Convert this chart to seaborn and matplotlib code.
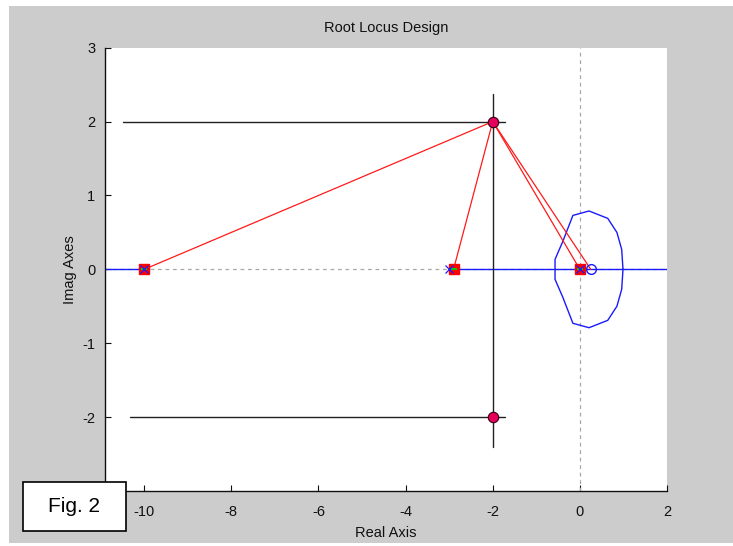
import matplotlib
matplotlib.use("Agg")
import matplotlib.pyplot as plt
from matplotlib.patches import Rectangle
import seaborn as sns

sns.set_style("white")
plt.rcParams['font.family'] = ['Liberation Sans', 'DejaVu Sans']

# ---- data ----
ol_poles = [-10.0, -3.0, 0.0]          # open-loop poles (blue x)
ol_zero = [0.25]                        # open-loop zero (blue o)
cl_poles = [-10.0, -2.9, 0.0]           # closed-loop poles (red squares)
design_x = [-2.0, -2.0]                 # desired pole locations
design_y = [2.0, -2.0]

locus_x = [0.99, 0.96, 0.85, 0.64, 0.21, -0.16, -0.39, -0.57, -0.57,
           -0.39, -0.16, 0.21, 0.64, 0.85, 0.96, 0.99]
locus_y = [0.0, 0.27, 0.50, 0.69, 0.79, 0.73, 0.38, 0.135, -0.135,
           -0.38, -0.73, -0.79, -0.69, -0.50, -0.27, 0.0]
real_left = [-10.9, -10.0]
real_right = [-3.0, 2.0]

vec_targets = [-10.0, -2.9, 0.0, 0.25]  # red vectors from (-2, 2)

hline_y = [2.0, -2.0]
hline_x0 = [-10.48, -10.32]
hline_x1 = [-1.72, -1.72]
vline_y = [-2.41, 2.37]

xticks = [-10, -8, -6, -4, -2, 0, 2]
yticks = [-2, -1, 0, 1, 2, 3]

# ---- figure ----
W, H = 733, 546
fig = plt.figure(figsize=(W / 100, H / 100), dpi=100, facecolor='white')
fig.add_artist(Rectangle((9 / W, 3 / H), 1 - 9 / W, (540 - 3) / H,
                         transform=fig.transFigure, facecolor='#cccccc',
                         edgecolor='none', zorder=-5))
ax = fig.add_axes([105 / W, 55 / H, 562 / W, 443.3 / H])
ax.set_facecolor('white')

gray = '#a8a8a8'
ax.axhline(0, color=gray, lw=0.9, ls=(0, (3, 3)), zorder=1)
ax.axvline(0, color=gray, lw=0.9, ls=(0, (3, 3)), zorder=1)

blue = '#1a1aff'
red = '#ff1a1a'
sns.lineplot(x=real_left, y=[0, 0], color=blue, lw=1.0, ax=ax, sort=False,
             estimator=None, zorder=2)
sns.lineplot(x=real_right, y=[0, 0], color=blue, lw=1.0, ax=ax, sort=False,
             estimator=None, zorder=2)
sns.lineplot(x=locus_x, y=locus_y, color=blue, lw=1.0, ax=ax, sort=False,
             estimator=None, zorder=2)

# black crosshair lines
for y, x0, x1 in zip(hline_y, hline_x0, hline_x1):
    sns.lineplot(x=[x0, x1], y=[y, y], color='#222222', lw=1.0, ax=ax,
                 sort=False, estimator=None, zorder=3)
sns.lineplot(x=[design_x[0], design_x[0]], y=vline_y, color='#222222', lw=1.0,
             ax=ax, sort=False, estimator=None, zorder=3)

# red vectors
for t in vec_targets:
    sns.lineplot(x=[design_x[0], t], y=[design_y[0], 0], color=red, lw=0.9,
                 ax=ax, sort=False, estimator=None, zorder=4)

# markers
ax.plot(cl_poles, [0] * len(cl_poles), ls='none', marker='s', ms=6.5,
        mfc='#ff0000', mec='#ff0000', zorder=5)
ax.plot(cl_poles, [0] * len(cl_poles), ls='none', marker='_', ms=5,
        mew=1.5, color='#00cc00', zorder=6)
ax.plot(ol_poles, [0] * len(ol_poles), ls='none', marker='x', ms=6,
        mew=0.9, color=blue, zorder=6)
ax.plot(ol_zero, [0], ls='none', marker='o', ms=7, mfc='none', mec=blue,
        mew=1.0, zorder=6)
ax.plot(design_x, design_y, ls='none', marker='o', ms=7.5, mfc='#e6005c',
        mec='#330011', mew=0.8, zorder=7)

ax.set_xlim(-10.9, 2)
ax.set_ylim(-3, 3)
ax.set_xticks(xticks)
ax.set_yticks(yticks)
ax.set_xticklabels([str(v) for v in xticks])
ax.set_yticklabels([str(v) for v in yticks])
ax.tick_params(direction='in', length=4, width=0.8, colors='#111111',
               labelsize=10.5, bottom=True, left=True)
ax.tick_params(axis='x', pad=10)
ax.tick_params(axis='y', pad=7)
for s in ['top', 'right']:
    ax.spines[s].set_visible(False)
for s in ['left', 'bottom']:
    ax.spines[s].set_color('#111111')
    ax.spines[s].set_linewidth(1.0)

ax.set_title('Root Locus Design', fontsize=10.5, color='#111111', pad=11)
ax.set_xlabel('Real Axis', fontsize=10.5, color='#111111', labelpad=5)
ax.set_ylabel('Imag Axes', fontsize=10.5, color='#111111', labelpad=4)

# Fig. 2 box
fig.add_artist(Rectangle((23 / W, 15 / H), 103 / W, 49 / H,
                         transform=fig.transFigure, facecolor='white',
                         edgecolor='black', lw=1.2, zorder=20))
fig.text(74.5 / W, (546 - 506.5) / H, 'Fig. 2', fontsize=15, ha='center',
         va='center', zorder=21, color='black')

fig.savefig('out.png', dpi=100, facecolor=fig.get_facecolor())
